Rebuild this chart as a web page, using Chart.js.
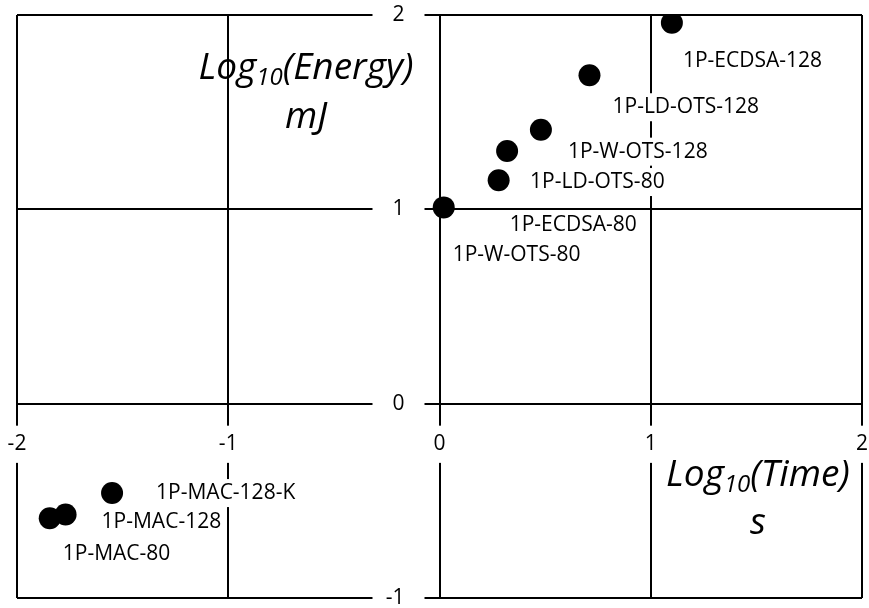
<!DOCTYPE html>
<html>
<head>
<meta charset="utf-8">
<script src="https://cdn.jsdelivr.net/npm/chart.js@4.4.0/dist/chart.umd.min.js"></script>
<style>
  html, body { margin: 0; padding: 0; background: #fff; }
  #wrap { width: 869px; height: 608px; }
</style>
</head>
<body>
<div id="wrap"><canvas id="chart"></canvas></div>
<script>
// Scheme names and log10 values
const schemeNames = ['1P-W-OTS-80', '1P-ECDSA-80', '1P-LD-OTS-80', '1P-W-OTS-128', '1P-LD-OTS-128',
                     '1P-ECDSA-128', '1P-MAC-80', '1P-MAC-128', '1P-MAC-128-K'];
const logTime   = [0.02, 0.28, 0.32, 0.48, 0.71, 1.10, -1.845, -1.77, -1.55];
const logEnergy = [1.01, 1.15, 1.30, 1.41, 1.69, 1.96, -0.59, -0.57, -0.46];
const xTicks = [-2, -1, 0, 1, 2];
const yTicks = [-1, 0, 1, 2];

// where each name sits relative to its dot (px)
const labelShift = [[9, 48], [11, 45], [23, 31], [27, 22], [23, 32], [11, 38], [13, 36], [36, 8], [44, 0]];

const FONT = '"Open Sans", sans-serif';
const LABEL_FONT = '21px ' + FONT;

// data labels: white boxes under the dots (they hide gridlines), text on top
const pointLabels = {
    id: 'pointLabels',
    beforeDatasetsDraw(chart) {
        const ctx = chart.ctx;
        const meta = chart.getDatasetMeta(0);
        ctx.save();
        ctx.font = LABEL_FONT;
        ctx.fillStyle = '#fff';
        meta.data.forEach((pt, i) => {
            const w = ctx.measureText(schemeNames[i]).width;
            const lx = pt.x + labelShift[i][0], ly = pt.y + labelShift[i][1];
            ctx.fillRect(lx - 4, ly - 14, w + 8, 28);
        });
        ctx.restore();
    },
    afterDatasetsDraw(chart) {
        const ctx = chart.ctx;
        const meta = chart.getDatasetMeta(0);
        ctx.save();
        ctx.font = LABEL_FONT;
        ctx.fillStyle = '#000';
        ctx.textAlign = 'left';
        ctx.textBaseline = 'middle';
        meta.data.forEach((pt, i) => {
            ctx.fillText(schemeNames[i], pt.x + labelShift[i][0], pt.y + labelShift[i][1]);
        });
        ctx.restore();
    }
};

// y tick labels sit left of the crossing axis, with a white box behind
const yTickLabels = {
    id: 'yTickLabels',
    afterDatasetsDraw(chart) {
        const ctx = chart.ctx;
        const xs = chart.scales.x, ys = chart.scales.y;
        const right = xs.getPixelForValue(0) - 35;
        ctx.save();
        ctx.font = '21px ' + FONT;
        ctx.textAlign = 'right';
        ctx.textBaseline = 'middle';
        ys.ticks.forEach(t => {
            const py = ys.getPixelForValue(t.value);
            ctx.fillStyle = '#fff';
            ctx.fillRect(right - 32, py - 12, 52, 24);
            ctx.fillStyle = '#000';
            ctx.fillText(String(t.value), right, py);
        });
        ctx.restore();
    }
};

// "Log10(...)" style titles with a subscript
function drawLogTitle(ctx, inner, unit, cx, baseline, unitBaseline) {
    const big = 'italic 37px ' + FONT;
    const small = 'italic 24px ' + FONT;
    ctx.font = big;
    const w1 = ctx.measureText('Log').width;
    const w3 = ctx.measureText('(' + inner + ')').width;
    ctx.font = small;
    const w2 = ctx.measureText('10').width;
    let x = cx - (w1 + w2 + w3) / 2;
    ctx.textAlign = 'left';
    ctx.textBaseline = 'alphabetic';
    ctx.font = big;
    ctx.fillText('Log', x, baseline);
    x += w1;
    ctx.font = small;
    ctx.fillText('10', x, baseline + 6);
    x += w2;
    ctx.font = big;
    ctx.fillText('(' + inner + ')', x, baseline);
    ctx.textAlign = 'center';
    ctx.fillText(unit, cx, unitBaseline);
}

const axisTitles = {
    id: 'axisTitles',
    afterDraw(chart) {
        const ctx = chart.ctx;
        ctx.save();
        ctx.fillStyle = '#000';
        drawLogTitle(ctx, 'Energy', 'mJ', 306, 79, 128);
        drawLogTitle(ctx, 'Time', 's', 758, 486, 534);
        ctx.restore();
    }
};

const noPad = s => { s.paddingLeft = 0; s.paddingRight = 0; s.paddingTop = 0; s.paddingBottom = 0; };

const ctx = document.getElementById('chart');
new Chart(ctx, {
    type: 'scatter',
    data: {
        datasets: [{
            data: logTime.map((x, i) => ({ x: x, y: logEnergy[i] })),
            backgroundColor: '#000',
            borderColor: '#000',
            pointRadius: 11,
            pointHoverRadius: 11,
            borderWidth: 0
        }]
    },
    options: {
        responsive: true,
        maintainAspectRatio: false,
        animation: false,
        layout: { autoPadding: false, padding: { left: 17, right: 7, top: 15, bottom: 10 } },
        plugins: {
            legend: { display: false },
            tooltip: { enabled: false }
        },
        scales: {
            x: {
                type: 'linear',
                min: -2,
                max: 2,
                position: { y: 0 },
                afterBuildTicks: s => { s.ticks = xTicks.map(v => ({ value: v })); },
                afterFit: noPad,
                grid: { color: '#000', lineWidth: 2, drawTicks: false },
                border: { color: '#000', width: 2 },
                ticks: {
                    z: 1,
                    padding: 28,
                    color: '#000',
                    font: { family: FONT, size: 21 },
                    showLabelBackdrop: true,
                    backdropColor: '#fff',
                    backdropPadding: { top: 6, bottom: 6, left: 4, right: 4 }
                }
            },
            y: {
                type: 'linear',
                min: -1,
                max: 2,
                position: { x: 0 },
                afterBuildTicks: s => { s.ticks = yTicks.map(v => ({ value: v })); },
                afterFit: noPad,
                grid: { color: '#000', lineWidth: 2, drawTicks: false },
                border: { color: '#000', width: 2 },
                ticks: { display: false }
            }
        }
    },
    plugins: [pointLabels, yTickLabels, axisTitles]
});
</script>
</body>
</html>
